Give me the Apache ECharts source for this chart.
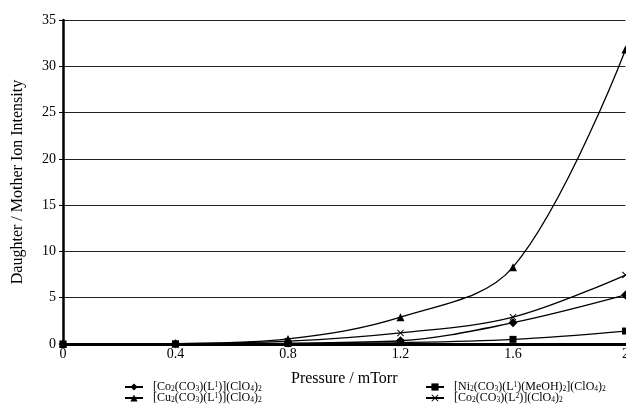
<!DOCTYPE html>
<html><head><meta charset="utf-8">
<script src="https://cdn.jsdelivr.net/npm/echarts@6/dist/echarts.min.js"></script>
<style>html,body{margin:0;padding:0;background:#fff}#c{width:626px;height:407px}</style>
</head><body><div id="c"></div>
<script>
const pressure = [0, 0.4, 0.8, 1.2, 1.6, 2.0];
const coL1 = [0, 0.02, 0.1, 0.35, 2.3, 5.3];
const niL1 = [0, 0.01, 0.05, 0.15, 0.5, 1.4];
const cuL1 = [0, 0.05, 0.55, 2.9, 8.3, 31.8];
const coL2 = [0, 0.03, 0.3, 1.2, 2.9, 7.45];
const xTicks = [0, 0.4, 0.8, 1.2, 1.6, 2];
const yTicks = [0, 5, 10, 15, 20, 25, 30, 35];

const F = 'Liberation Serif, Times New Roman, serif';
const crossPath = 'path://M0,1 L1,0 L5,4 L9,0 L10,1 L6,5 L10,9 L9,10 L5,6 L1,10 L0,9 L4,5 Z';
const labels = {
  'coL1': '{n|[Co}{s|2}{n|(CO}{s|3}{n|)(L}{p|1}{n|)](ClO}{s|4}{n|)}{s|2}',
  'niL1': '{n|[Ni}{s|2}{n|(CO}{s|3}{n|)(L}{p|1}{n|)(MeOH)}{s|2}{n|](ClO}{s|4}{n|)}{s|2}',
  'cuL1': '{n|[Cu}{s|2}{n|(CO}{s|3}{n|)(L}{p|1}{n|)](ClO}{s|4}{n|)}{s|2}',
  'coL2': '{n|[Co}{s|2}{n|(CO}{s|3}{n|)(L}{p|2}{n|)](ClO}{s|4}{n|)}{s|2}'
};
const rich = {
  n: {fontFamily: F, fontSize: 12, color: '#000', lineHeight: 12},
  s: {fontFamily: F, fontSize: 7.5, color: '#000', lineHeight: 12, padding: [4, 0, 0, 0]},
  p: {fontFamily: F, fontSize: 7.5, color: '#000', lineHeight: 12, padding: [0, 0, 4, 0]}
};
function mk(name, data, symbol, size) {
  return {
    name: name, type: 'line', smooth: 0.35,
    data: pressure.map((p, i) => [p, data[i]]),
    symbol: symbol, symbolSize: size,
    lineStyle: {color: '#000', width: 1.3},
    itemStyle: {color: '#000'},
    z: 3
  };
}
function lg(name, left, top) {
  return {data: [name], orient: 'horizontal', left: left, top: top, padding: 0,
    itemWidth: 18, itemHeight: 9, itemGap: 0,
    formatter: n => labels[n], textStyle: {rich: rich, padding: [0, 0, 0, 5]}};
}
const chart = echarts.init(document.getElementById('c'));
chart.setOption({
  animation: false,
  backgroundColor: '#fff',
  grid: {left: 63, right: 0.5, top: 20, bottom: 63, outerBoundsMode: 'none', containLabel: false},
  xAxis: {
    type: 'value', min: 0, max: 2, interval: 0.4,
    name: 'Pressure / mTorr', nameLocation: 'middle', nameGap: 27,
    nameTextStyle: {fontFamily: F, fontSize: 16, color: '#000'},
    axisLine: {lineStyle: {color: '#000', width: 3}},
    axisTick: {show: false},
    axisLabel: {fontFamily: F, fontSize: 14, color: '#000', margin: 3,
      formatter: v => String(Math.round(v * 10) / 10)},
    splitLine: {show: false}
  },
  yAxis: {
    type: 'value', min: 0, max: 35, interval: 5,
    name: 'Daughter / Mother Ion Intensity', nameLocation: 'middle', nameGap: 37,
    nameTextStyle: {fontFamily: F, fontSize: 16, color: '#000'},
    axisLine: {show: true, lineStyle: {color: '#000', width: 2.5}},
    axisTick: {show: true, length: 4, lineStyle: {color: '#000'}},
    axisLabel: {fontFamily: F, fontSize: 14, color: '#000', margin: 7},
    splitLine: {show: true, lineStyle: {color: '#222', width: 1.2}}
  },
  legend: [
    lg('coL1', 124, 381),
    lg('cuL1', 124, 392),
    lg('niL1', 425, 381),
    lg('coL2', 425, 392)
  ],
  series: [
    mk('coL1', coL1, 'diamond', 9),
    mk('niL1', niL1, 'rect', 7),
    mk('cuL1', cuL1, 'triangle', 8),
    mk('coL2', coL2, crossPath, 7)
  ]
});
</script></body></html>
